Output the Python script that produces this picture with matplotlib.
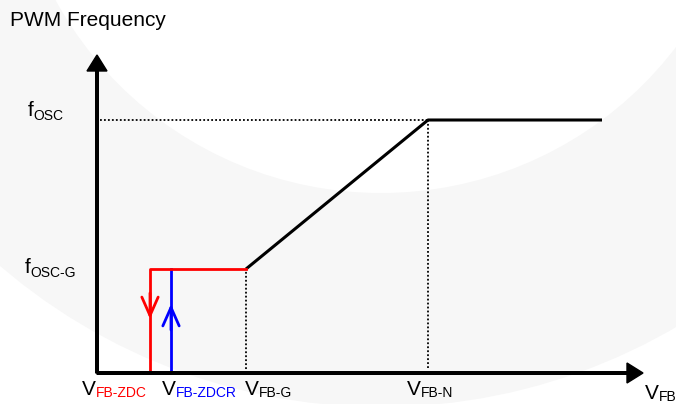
import matplotlib.pyplot as plt
from matplotlib.patches import Circle

plt.rcParams['font.family'] = ['Liberation Sans', 'DejaVu Sans']

# Datos (unidades = pixeles desde el origen de los ejes)
v_fb_zdc = 53
v_fb_zdcr = 74
v_fb_g = 149
v_fb_n = 331
v_fb_end = 505
f_osc_g = 104
f_osc = 253
x_axis_end = 546
y_axis_end = 318

# etiquetas: (texto, subindice, color subindice, x izquierda, y base)
x_labels = [
    ("V", "FB-ZDC", "#ff0000", -15, -22),
    ("V", "FB-ZDCR", "#0000ff", 65, -22),
    ("V", "FB-G", "black", 148, -22),
    ("V", "FB-N", "black", 310, -22),
    ("V", "FB", "black", 548, -26),
]
y_labels = [
    ("f", "OSC", "black", -69, 257),
    ("f", "OSC-G", "black", -72, 100),
]

fig = plt.figure(figsize=(6.76, 4.04), dpi=100)
ax = fig.add_axes([0, 0, 1, 1])
ax.set_xlim(-97, 579)
ax.set_ylim(-31, 373)
ax.set_axis_off()

# fondo: anillo gris muy claro
ax.add_patch(Circle((284, 551), 585, color="#f7f7f7", zorder=0, lw=0))
ax.add_patch(Circle((284, 551), 371, color="white", zorder=0, lw=0))

# ejes con flecha
ax.arrow(0, 0, 0, y_axis_end, width=2.6, head_width=20, head_length=16,
         length_includes_head=True, color="black", zorder=5)
ax.arrow(0, 0, x_axis_end, 0, width=2.6, head_width=20, head_length=16,
         length_includes_head=True, color="black", zorder=5)

# lineas punteadas
dots = dict(color="black", lw=1.3, dashes=(1, 1.2), zorder=2)
ax.plot([3, v_fb_n], [f_osc, f_osc], **dots)
ax.plot([v_fb_n, v_fb_n], [5, f_osc], **dots)
ax.plot([v_fb_g, v_fb_g], [0, f_osc_g], **dots)

# curva principal
ax.plot([v_fb_g, v_fb_n, v_fb_end], [f_osc_g, f_osc, f_osc],
        color="black", lw=2.2, zorder=3, solid_capstyle="butt")

# histeresis
ax.plot([v_fb_zdcr, v_fb_zdcr], [0, f_osc_g], color="#0000ff", lw=2, zorder=3)
ax.plot([v_fb_g, v_fb_zdc, v_fb_zdc], [f_osc_g, f_osc_g, 0],
        color="#ff0000", lw=2, zorder=4)
head = "->,head_length=0.95,head_width=0.42"
ax.annotate("", xy=(v_fb_zdc, 54), xytext=(v_fb_zdc, 80),
            arrowprops=dict(arrowstyle=head, color="#ff0000", lw=2,
                            mutation_scale=14, shrinkA=0, shrinkB=0))
ax.annotate("", xy=(v_fb_zdcr, 69), xytext=(v_fb_zdcr, 43),
            arrowprops=dict(arrowstyle=head, color="#0000ff", lw=2,
                            mutation_scale=14, shrinkA=0, shrinkB=0))

# textos
ax.text(-87, 347, "PWM Frequency", fontsize=15, va="baseline", ha="left")


def label(main, sub, color, x, y, drop):
    t = ax.text(x, y, main, fontsize=15, va="baseline", ha="left")
    ax.annotate(sub, xy=(1, 0), xycoords=t, xytext=(0, drop),
                textcoords="offset points", fontsize=10, color=color,
                va="bottom", ha="left")


for main, sub, color, x, y in x_labels:
    label(main, sub, color, x, y, -1)
for main, sub, color, x, y in y_labels:
    label(main, sub, color, x, y, -2.5)

plt.savefig("out.png", dpi=100)
